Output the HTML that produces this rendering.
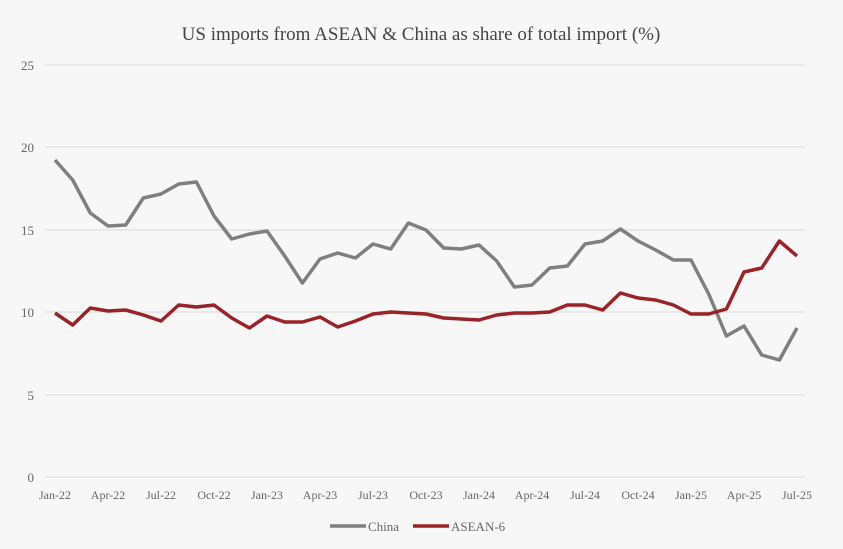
<!DOCTYPE html>
<html><head><meta charset="utf-8"><style>
html,body{margin:0;padding:0;background:#f7f7f7;}
svg{display:block;font-family:"Liberation Serif",serif;}
</style></head><body>
<svg width="843" height="549" viewBox="0 0 843 549" xmlns="http://www.w3.org/2000/svg">
<rect width="843" height="549" fill="#f7f7f7"/>
<text x="421" y="40" text-anchor="middle" font-size="19" fill="#444">US imports from ASEAN &amp; China as share of total import (%)</text>
<g stroke="#d9d9d9" stroke-width="1">
<line x1="45" y1="65" x2="805" y2="65"/>
<line x1="45" y1="147" x2="805" y2="147"/>
<line x1="45" y1="230" x2="805" y2="230"/>
<line x1="45" y1="312" x2="805" y2="312"/>
<line x1="45" y1="395" x2="805" y2="395"/>
<line x1="45" y1="477" x2="805" y2="477"/>
</g>
<g font-size="13" fill="#666" text-anchor="end">
<text x="34" y="70">25</text><text x="34" y="152">20</text><text x="34" y="235">15</text>
<text x="34" y="317">10</text><text x="34" y="400">5</text><text x="34" y="482">0</text>
</g>
<g font-size="12" fill="#666" text-anchor="middle">
<text x="55" y="499">Jan-22</text><text x="108" y="499">Apr-22</text><text x="161" y="499">Jul-22</text>
<text x="214" y="499">Oct-22</text><text x="267" y="499">Jan-23</text><text x="320" y="499">Apr-23</text>
<text x="373" y="499">Jul-23</text><text x="426" y="499">Oct-23</text><text x="479" y="499">Jan-24</text>
<text x="532" y="499">Apr-24</text><text x="585" y="499">Jul-24</text><text x="638" y="499">Oct-24</text>
<text x="691" y="499">Jan-25</text><text x="744" y="499">Apr-25</text><text x="797" y="499">Jul-25</text>
</g>
<polyline fill="none" stroke="#7f7f7f" stroke-width="3.5" stroke-linejoin="round" points="55,160 72.7,180 90.3,213 108,226 125.7,225 143.3,198 161,194 178.7,184 196.4,182 214,216 231.7,239 249.4,234 267,231 284.7,256 302.4,283 320,259 337.7,253 355.4,258 373,244 390.7,249 408.4,223 426,230 443.7,248 461.4,249 479,245 496.7,261 514.4,287 532,285 549.7,268 567.4,266 585,244 602.7,241 620.4,229 638,241 655.7,250 673.4,260 691,260 708.7,294 726.4,336 744,326 761.7,355 779.4,360 797,328"/>
<polyline fill="none" stroke="#9b2226" stroke-width="3.5" stroke-linejoin="round" points="55,313 72.7,325 90.3,308 108,311 125.7,310 143.3,315 161,321 178.7,305 196.4,307 214,305 231.7,318 249.4,328 267,316 284.7,322 302.4,322 320,317 337.7,327 355.4,321 373,314 390.7,312 408.4,313 426,314 443.7,318 461.4,319 479,320 496.7,315 514.4,313 532,313 549.7,312 567.4,305 585,305 602.7,310 620.4,293 638,298 655.7,300 673.4,305 691,314 708.7,314 726.4,309 744,272 761.7,268 779.4,241 797,256"/>
<line x1="330" y1="526" x2="366" y2="526" stroke="#7f7f7f" stroke-width="3.5"/>
<text x="368" y="531" font-size="13" fill="#666">China</text>
<line x1="413" y1="526" x2="449" y2="526" stroke="#9b2226" stroke-width="3.5"/>
<text x="451" y="531" font-size="13" fill="#666">ASEAN-6</text>
</svg>
</body></html>
